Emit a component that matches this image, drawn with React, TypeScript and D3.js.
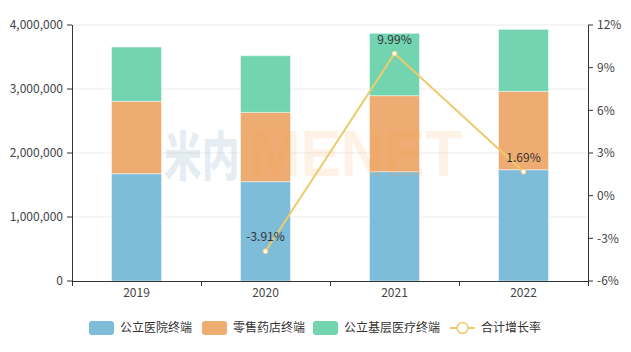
import React from "react";
import * as d3 from "d3";

const years = ["2019", "2020", "2021", "2022"];
const hospital = [1676000, 1552000, 1708000, 1739000];
const retail = [1132000, 1083000, 1188000, 1225000];
const primary = [848000, 885000, 974000, 968000];
const growth = [null, -3.91, 9.99, 1.69];
const seriesNames = ["公立医院终端", "零售药店终端", "公立基层医疗终端"];
const lineName = "合计增长率";
const leftTicks = [0, 1000000, 2000000, 3000000, 4000000];
const rightTicks = [-6, -3, 0, 3, 6, 9, 12];

const colors = ["#7dbdda", "#eeac72", "#73d4b2"];
const lineColor = "#edcb6c";
const FONT = "'Noto Sans CJK SC', 'Microsoft YaHei', sans-serif";

export default function App() {
  const W = 631, H = 352;
  const left = 72, right = 588, top = 25, bottom = 281;
  const x = d3.scaleBand<string>().domain(years).range([left, right]).paddingInner(0).paddingOuter(0);
  const y = d3.scaleLinear().domain([0, 4000000]).range([bottom, top]);
  const y2 = d3.scaleLinear().domain([-6, 12]).range([bottom, top]);
  const barW = 50;
  const fmt = d3.format(",");
  const stacks = [hospital, retail, primary];

  const pts = years
    .map((yr, i) => ({ yr, v: growth[i] }))
    .filter((d) => d.v !== null) as { yr: string; v: number }[];
  const line = d3
    .line<{ yr: string; v: number }>()
    .x((d) => (x(d.yr) as number) + x.bandwidth() / 2)
    .y((d) => y2(d.v));

  const boundaries = [...years.map((yr) => x(yr) as number), right];

  return (
    <svg width={W} height={H} style={{ position: "absolute", left: 0, top: 0, fontFamily: FONT }}>
      <rect width={W} height={H} fill="#fff" />
      {leftTicks.slice(1).map((t) => (
        <line key={t} x1={left} x2={right} y1={y(t)} y2={y(t)} stroke="#ececec" />
      ))}
      {years.map((yr, i) => {
        let acc = 0;
        return stacks.map((s, k) => {
          const y0 = acc;
          acc += s[i];
          const cx = (x(yr) as number) + x.bandwidth() / 2;
          return (
            <rect
              key={yr + k}
              x={cx - barW / 2}
              y={y(acc)}
              width={barW}
              height={y(y0) - y(acc)}
              fill={colors[k]}
              stroke="#ffffff"
              strokeOpacity={0.45}
              strokeWidth={1}
            />
          );
        });
      })}
      {/* watermark */}
      <text transform="translate(164,176) scale(0.7,1)" fontSize={54} fontWeight={900} fill="#5b8fb3" fillOpacity={0.16} fontFamily={FONT}>
        米内
      </text>
      <text x={250} y={176} fontSize={64} fontWeight="bold" fill="#f59a45" fillOpacity={0.14} textLength={212} lengthAdjust="spacingAndGlyphs" fontFamily="'Liberation Sans', Arial, sans-serif">
        MENET
      </text>
      {/* axes */}
      <line x1={left} x2={right} y1={bottom + 0.5} y2={bottom + 0.5} stroke="#333" />
      <line x1={left + 0.5} x2={left + 0.5} y1={top} y2={bottom} stroke="#333" />
      <line x1={right + 0.5} x2={right + 0.5} y1={top} y2={bottom} stroke="#333" />
      {boundaries.map((bx, i) => (
        <line key={i} x1={bx + 0.5} x2={bx + 0.5} y1={bottom} y2={bottom + 5} stroke="#333" />
      ))}
      {leftTicks.map((t) => (
        <g key={t}>
          <line x1={left - 5} x2={left} y1={y(t)} y2={y(t)} stroke="#333" />
          <text x={left - 9} y={y(t)} dy="0.35em" textAnchor="end" fontSize={12} fill="#444">
            {fmt(t)}
          </text>
        </g>
      ))}
      {rightTicks.map((t) => (
        <g key={t}>
          <line x1={right} x2={right + 5} y1={y2(t)} y2={y2(t)} stroke="#333" />
          <text x={right + 9} y={y2(t)} dy="0.35em" textAnchor="start" fontSize={12} fill="#444">
            {t}%
          </text>
        </g>
      ))}
      {years.map((yr) => (
        <text key={yr} x={(x(yr) as number) + x.bandwidth() / 2} y={293} dy="0.35em" textAnchor="middle" fontSize={12} fill="#444">
          {yr}
        </text>
      ))}
      {/* line */}
      <path d={line(pts) || ""} fill="none" stroke={lineColor} strokeWidth={2} />
      {pts.map((d) => {
        const cx = (x(d.yr) as number) + x.bandwidth() / 2;
        return (
          <g key={d.yr}>
            <circle cx={cx} cy={y2(d.v)} r={2.5} fill="#fff" stroke={lineColor} strokeWidth={1} />
            <text x={cx} y={y2(d.v) - 14} dy="0.35em" textAnchor="middle" fontSize={12} fill="#333">
              {d.v.toFixed(2)}%
            </text>
          </g>
        );
      })}
      {/* legend */}
      {seriesNames.map((n, i) => {
        const lx = [89, 202, 313][i];
        return (
          <g key={n}>
            <rect x={lx} y={321} width={25} height={14} rx={3} fill={colors[i]} />
            <text x={lx + 31} y={328} dy="0.35em" fontSize={12} fill="#333">
              {n}
            </text>
          </g>
        );
      })}
      <line x1={450} x2={475} y1={328} y2={328} stroke={lineColor} strokeWidth={2} />
      <circle cx={462.5} cy={328} r={5.5} fill="#fff" stroke={lineColor} strokeWidth={1.5} />
      <text x={481} y={328} dy="0.35em" fontSize={12} fill="#333">
        {lineName}
      </text>
    </svg>
  );
}
